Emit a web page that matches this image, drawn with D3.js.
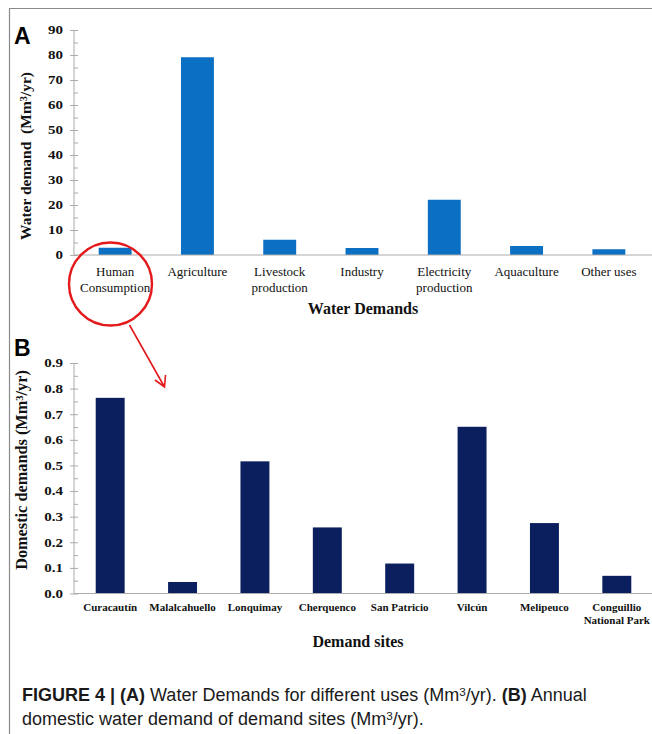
<!DOCTYPE html>
<html>
<head>
<meta charset="utf-8">
<script src="https://cdn.jsdelivr.net/npm/d3@7"></script>
<style>
  html, body { margin: 0; padding: 0; background: #fff; }
  svg { display: block; }
</style>
</head>
<body>
<svg id="fig" width="652" height="734"></svg>
<script>
// Panel A: water demand by use (Mm3/yr)
const usesLabels = [["Human", "Consumption"], ["Agriculture"], ["Livestock", "production"], ["Industry"], ["Electricity", "production"], ["Aquaculture"], ["Other uses"]];
const usesValues = [2.9, 79.1, 6.1, 2.8, 22.1, 3.6, 2.3];
const usesTicks = [0, 10, 20, 30, 40, 50, 60, 70, 80, 90];

// Panel B: domestic demand per site (Mm3/yr)
const siteLabels = [["Curacautín"], ["Malalcahuello"], ["Lonquimay"], ["Cherquenco"], ["San Patricio"], ["Vilcún"], ["Melipeuco"], ["Conguillio", "National Park"]];
const siteValues = [0.764, 0.045, 0.516, 0.258, 0.117, 0.651, 0.275, 0.069];
const siteTicks = [0, 0.1, 0.2, 0.3, 0.4, 0.5, 0.6, 0.7, 0.8, 0.9];

const svg = d3.select("#fig");
const serif = "'Liberation Serif', 'Times New Roman', serif";
const sans = "'Liberation Sans', Arial, sans-serif";
const axisGray = "#ababab";

// scale a text element's font so that its rendered length hits a target
function fitLength(sel, target) {
  const fs = parseFloat(sel.attr("font-size"));
  const len = sel.node().getComputedTextLength();
  sel.attr("font-size", (fs * target / len).toFixed(2));
}

// append "...(Mm³/yr)" style superscript: raise by 0.26 of the parent size, then drop back
function supThree(sel) {
  sel.append("tspan").attr("dy", "-0.4em").attr("font-size", "0.65em").text("3");
  return sel.append("tspan").attr("dy", "0.26em");
}

// frame lines
svg.append("line").attr("x1", 9).attr("x2", 652).attr("y1", 8.5).attr("y2", 8.5).attr("stroke", "#8a8a8a").attr("stroke-width", 1.2);
svg.append("line").attr("x1", 9.5).attr("x2", 9.5).attr("y1", 8).attr("y2", 734).attr("stroke", "#8a8a8a").attr("stroke-width", 1.2);

function panel(opt) {
  const g = svg.append("g");
  const x = d3.scaleBand().domain(opt.labels.map((d, i) => i)).range([opt.x0, opt.x1]).paddingInner(0.6).paddingOuter(0.3);
  const y = d3.scaleLinear().domain([0, opt.max]).range([opt.y0, opt.y1]);

  // minor ticks sit inside the plot, major ticks cross the axis
  const minor = d3.range(1, Math.round(opt.max / opt.step) * 2, 2).map(k => k * opt.step / 2);
  const ya = g.append("g").attr("transform", `translate(${opt.x0},0)`)
    .call(d3.axisRight(y).tickValues(minor).tickSize(4).tickFormat(""));
  ya.select(".domain").attr("stroke", axisGray).attr("d", `M0,${opt.y0}V${opt.y1}`);
  ya.selectAll(".tick line").attr("stroke", axisGray);
  const yb = g.append("g").attr("transform", `translate(${opt.x0 + 4},0)`)
    .call(d3.axisLeft(y).tickValues(opt.ticks).tickSize(8).tickFormat(""));
  yb.select(".domain").remove();
  yb.selectAll(".tick line").attr("stroke", axisGray);

  g.selectAll(".ytl").data(opt.ticks).join("text")
    .attr("transform", d => `translate(${opt.x0 - 11},${y(d)}) scale(1.2,1)`)
    .attr("dy", "0.35em")
    .attr("text-anchor", "end").attr("font-family", serif).attr("font-weight", "bold")
    .attr("font-size", 12.5).attr("fill", "#111").text(opt.fmt);

  g.selectAll("rect").data(opt.values).join("rect")
    .attr("x", (d, i) => x(i)).attr("width", x.bandwidth())
    .attr("y", d => y(d)).attr("height", d => y(0) - y(d))
    .attr("fill", opt.color);

  g.append("line").attr("x1", opt.x0).attr("x2", 652).attr("y1", opt.y0).attr("y2", opt.y0)
    .attr("stroke", axisGray).attr("stroke-width", 1.2);

  const lab = g.selectAll(".xtl").data(opt.labels).join("text")
    .attr("text-anchor", "middle").attr("font-family", serif)
    .attr("font-weight", opt.labelWeight).attr("font-size", opt.labelSize).attr("fill", "#111");
  lab.each(function (d, i) {
    const t = d3.select(this);
    d.forEach((line, k) => {
      t.append("tspan").attr("x", x(i) + x.bandwidth() / 2)
        .attr("y", opt.labelY + k * opt.labelLead).text(line);
    });
  });

  g.append("text").attr("x", opt.titleX).attr("y", opt.titleY).attr("text-anchor", "middle")
    .attr("font-family", serif).attr("font-weight", "bold").attr("font-size", 16).attr("fill", "#111")
    .text(opt.xTitle);

  const yt = g.append("text").attr("transform", `translate(${opt.yTitleX},${opt.yTitleY}) rotate(-90)`)
    .attr("text-anchor", "middle").attr("font-family", serif).attr("font-weight", "bold")
    .attr("font-size", 16).attr("fill", "#111").attr("xml:space", "preserve");
  yt.append("tspan").text(opt.yTitle + " (Mm");
  supThree(yt).text("/yr)");
  fitLength(yt, opt.yTitleLen);

  svg.append("text").attr("x", 14).attr("y", opt.letterY).attr("font-family", sans)
    .attr("font-weight", "bold").attr("font-size", 23).attr("fill", "#000").text(opt.letter);
  return x;
}

panel({
  labels: usesLabels, values: usesValues, ticks: usesTicks, max: 90, step: 10,
  x0: 74, x1: 650, y0: 255, y1: 30, color: "#0b6fc3", fmt: d => d,
  labelWeight: "normal", labelSize: 13, labelY: 276, labelLead: 16,
  xTitle: "Water Demands", titleX: 363, titleY: 314,
  yTitle: "Water demand ", yTitleX: 31, yTitleY: 156, yTitleLen: 168,
  letter: "A", letterY: 44
});

panel({
  labels: siteLabels, values: siteValues, ticks: siteTicks, max: 0.9, step: 0.1,
  x0: 74, x1: 653, y0: 593.5, y1: 363, color: "#0b1f5e", fmt: d3.format(".1f"),
  labelWeight: "bold", labelSize: 11, labelY: 611, labelLead: 13,
  xTitle: "Demand sites", titleX: 358, titleY: 647,
  yTitle: "Domestic demands", yTitleX: 27, yTitleY: 470, yTitleLen: 200,
  letter: "B", letterY: 356
});

// highlight ring on the first use category with a pointer to panel B
const red = "#e3191c";
svg.append("circle").attr("cx", 110.5).attr("cy", 284).attr("r", 41.5)
  .attr("fill", "none").attr("stroke", red).attr("stroke-width", 2.4);
svg.append("path").attr("d", "M129.5,325 L164.5,387 M155,380 L164.5,387 L165.5,375")
  .attr("fill", "none").attr("stroke", red).attr("stroke-width", 1.6);

// caption
const cap1 = svg.append("text").attr("x", 22).attr("y", 701).attr("font-family", sans)
  .attr("font-size", 17).attr("fill", "#1a1a1a");
cap1.append("tspan").attr("font-weight", "bold").text("FIGURE 4 | (A)");
cap1.append("tspan").text(" Water Demands for different uses (Mm");
const tail1 = supThree(cap1);
tail1.text("/yr). ");
cap1.append("tspan").attr("font-weight", "bold").text("(B)");
cap1.append("tspan").text(" Annual");
fitLength(cap1, 565);

const cap2 = svg.append("text").attr("x", 22).attr("y", 725).attr("font-family", sans)
  .attr("font-size", cap1.attr("font-size")).attr("fill", "#1a1a1a");
cap2.append("tspan").text("domestic water demand of demand sites (Mm");
supThree(cap2).text("/yr).");
</script>
</body>
</html>
